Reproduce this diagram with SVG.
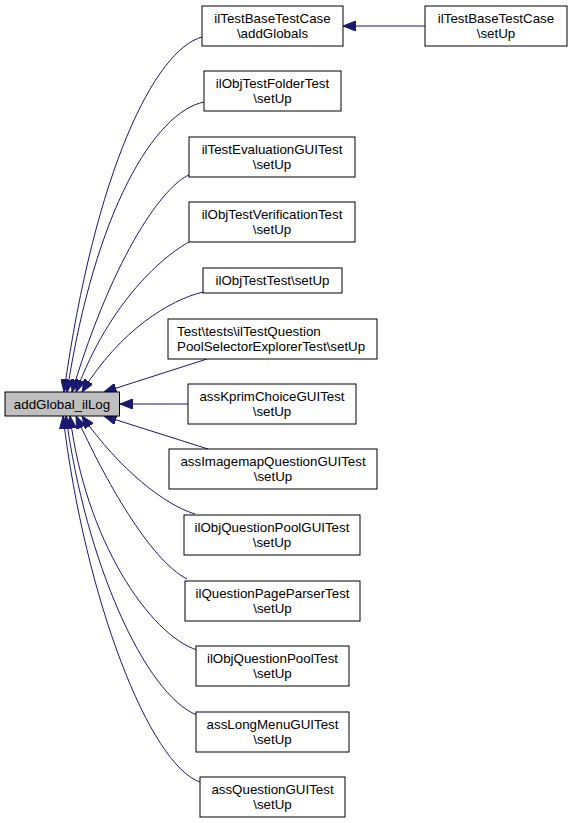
<svg xmlns="http://www.w3.org/2000/svg" width="572" height="823" viewBox="0 0 572 823">
<style>
.box{fill:#ffffff;stroke:#000000;stroke-width:1}
.main{fill:#bfbfbf;stroke:#000000;stroke-width:1}
text{font-family:"Liberation Sans",Arial,sans-serif;font-size:13.33px;fill:#000000}
.c{text-anchor:middle}
.e{fill:none;stroke:#191970;stroke-width:1;marker-end:url(#ah)}
</style>
<defs>
<marker id="ah" markerUnits="userSpaceOnUse" markerWidth="13" markerHeight="10" refX="12.5" refY="5" orient="auto" viewBox="0 0 13 10">
<path d="M0,0 L12.5,5 L0,10 z" fill="#191970" stroke="#191970" stroke-width="1"/>
</marker>
</defs>
<rect width="572" height="823" fill="#ffffff"/>
<g id="edges">
<path class="e" d="M425,26 L343,26"/>
<path class="e" d="M202,37 C155,50 95,170 64,392"/>
<path class="e" d="M204,102 C155,112 95,210 67,392"/>
<path class="e" d="M189,175 C165,185 115,250 72,392"/>
<path class="e" d="M189,242 C165,255 110,300 76,392"/>
<path class="e" d="M203,292 C170,300 120,330 82,392"/>
<path class="e" d="M207,359 L104,392"/>
<path class="e" d="M188,404 L120,404"/>
<path class="e" d="M208,449 L104,416"/>
<path class="e" d="M195,514 C165,505 120,470 82,416"/>
<path class="e" d="M187,579 C150,560 105,480 76,416"/>
<path class="e" d="M197,650 C150,635 85,540 70,416"/>
<path class="e" d="M197,715 C145,695 85,560 66,416"/>
<path class="e" d="M200,782 C150,765 85,600 63,416"/>
</g>
<g id="n_main">
<rect class="main" x="5" y="392" width="114.5" height="24"/>
<text class="c" x="62" y="409">addGlobal_ilLog</text>
</g>
<g id="n_addGlobals">
<rect class="box" x="202" y="6" width="141" height="40"/>
<text class="c" x="272.5" y="23">ilTestBaseTestCase</text>
<text class="c" x="272.5" y="38">\addGlobals</text>
</g>
<g id="n_baseSetUp">
<rect class="box" x="425" y="6" width="142" height="40"/>
<text class="c" x="496" y="23">ilTestBaseTestCase</text>
<text class="c" x="496" y="38">\setUp</text>
</g>
<g id="n_folder">
<rect class="box" x="204" y="71" width="137" height="40"/>
<text class="c" x="272.5" y="88">ilObjTestFolderTest</text>
<text class="c" x="272.5" y="103">\setUp</text>
</g>
<g id="n_eval">
<rect class="box" x="189" y="137" width="166" height="40"/>
<text class="c" x="272" y="154">ilTestEvaluationGUITest</text>
<text class="c" x="272" y="169">\setUp</text>
</g>
<g id="n_verif">
<rect class="box" x="189" y="202" width="166" height="40"/>
<text class="c" x="272" y="219">ilObjTestVerificationTest</text>
<text class="c" x="272" y="234">\setUp</text>
</g>
<g id="n_objtest">
<rect class="box" x="203" y="268" width="139" height="25"/>
<text class="c" x="272.5" y="285">ilObjTestTest\setUp</text>
</g>
<g id="n_poolsel">
<rect class="box" x="168" y="319" width="209" height="40"/>
<text x="177" y="336">Test\tests\ilTestQuestion</text>
<text x="177" y="351">PoolSelectorExplorerTest\setUp</text>
</g>
<g id="n_kprim">
<rect class="box" x="188" y="384" width="168" height="40"/>
<text class="c" x="272" y="401">assKprimChoiceGUITest</text>
<text class="c" x="272" y="416">\setUp</text>
</g>
<g id="n_imagemap">
<rect class="box" x="169" y="449" width="208" height="40"/>
<text class="c" x="273" y="466">assImagemapQuestionGUITest</text>
<text class="c" x="273" y="481">\setUp</text>
</g>
<g id="n_qpgui">
<rect class="box" x="184" y="515" width="176" height="40"/>
<text class="c" x="272" y="532">ilObjQuestionPoolGUITest</text>
<text class="c" x="272" y="547">\setUp</text>
</g>
<g id="n_pageparser">
<rect class="box" x="185" y="581" width="175" height="40"/>
<text class="c" x="272.5" y="598">ilQuestionPageParserTest</text>
<text class="c" x="272.5" y="613">\setUp</text>
</g>
<g id="n_qptest">
<rect class="box" x="196" y="646" width="153" height="40"/>
<text class="c" x="272.5" y="663">ilObjQuestionPoolTest</text>
<text class="c" x="272.5" y="678">\setUp</text>
</g>
<g id="n_longmenu">
<rect class="box" x="196" y="712" width="153" height="40"/>
<text class="c" x="272.5" y="729">assLongMenuGUITest</text>
<text class="c" x="272.5" y="744">\setUp</text>
</g>
<g id="n_qgui">
<rect class="box" x="200" y="777" width="145" height="40"/>
<text class="c" x="272.5" y="794">assQuestionGUITest</text>
<text class="c" x="272.5" y="809">\setUp</text>
</g>
</svg>
